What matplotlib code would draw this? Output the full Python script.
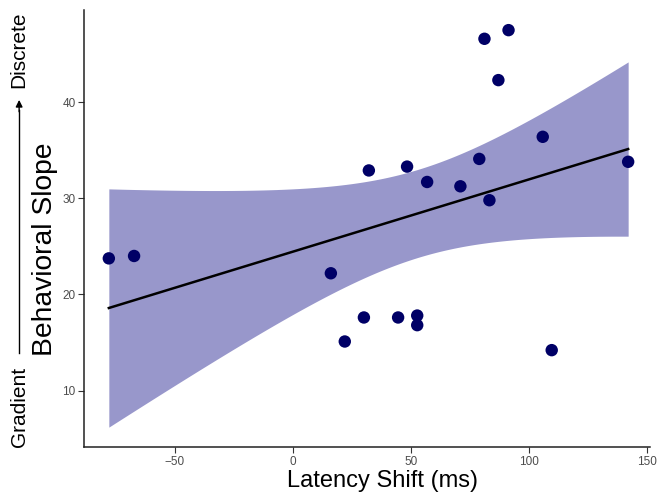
import numpy as np
import matplotlib.pyplot as plt

plt.rcParams['font.family'] = ['Liberation Sans', 'DejaVu Sans']

# data
latency_shift = [-77.9, -67.2, 16.2, 22.1, 30.2, 32.3, 44.7, 48.5, 52.8, 52.8,
                 57.0, 71.1, 79.1, 81.3, 83.4, 87.2, 91.5, 106.0, 109.8, 142.2]
behavioral_slope = [23.75, 24.0, 22.2, 15.1, 17.6, 32.9, 17.6, 33.3, 17.8, 16.8,
                    31.7, 31.25, 34.1, 46.6, 29.8, 42.3, 47.5, 36.4, 14.2, 33.8]

x = np.array(latency_shift)
y = np.array(behavioral_slope)

# linear fit with 95% confidence band (like geom_smooth(method="lm"))
n = len(x)
b1, b0 = np.polyfit(x, y, 1)
xs = np.linspace(x.min(), x.max(), 200)
ys = b0 + b1 * xs
resid = y - (b0 + b1 * x)
s = np.sqrt(np.sum(resid**2) / (n - 2))
se = s * np.sqrt(1 / n + (xs - x.mean())**2 / np.sum((x - x.mean())**2))
tcrit = 2.100922  # t(0.975, df=18)

fig = plt.figure(figsize=(6.6, 4.98), dpi=100)
ax = fig.add_axes([0.127, 0.102, 0.858, 0.878])

ax.fill_between(xs, ys - tcrit * se, ys + tcrit * se, color='#9897cb', lw=0, zorder=1)
ax.plot(xs, ys, color='black', lw=1.8, zorder=2)
ax.scatter(x, y, s=80, color='#000066', zorder=3, edgecolors='none')

ax.set_xlim(-88.5, 151.5)
ax.set_ylim(4.1, 49.6)
ax.set_xticks([-50, 0, 50, 100, 150])
ax.set_yticks([10, 20, 30, 40])
ax.set_xticklabels(['\u221250', '0', '50', '100', '150'])
ax.tick_params(labelcolor='#4d4d4d', labelsize=8.5, length=4, pad=2,
               color='#333333')
for side in ['top', 'right']:
    ax.spines[side].set_visible(False)
for side in ['left', 'bottom']:
    ax.spines[side].set_linewidth(1.1)
    ax.spines[side].set_color('#222222')

ax.set_xlabel('Latency Shift (ms)', fontsize=17)
ax.xaxis.set_label_coords(0.528, -0.052)

fig.text(0.068, 0.5, 'Behavioral Slope', rotation=90, fontsize=20.3,
         ha='center', va='center')
fig.text(0.029, 0.183, 'Gradient', rotation=90, fontsize=15,
         ha='center', va='center')
fig.text(0.029, 0.90, 'Discrete', rotation=90, fontsize=15,
         ha='center', va='center')
fig.add_artist(plt.Line2D([0.029, 0.029], [0.291, 0.78], color='black', lw=1))
ax.annotate('', xy=(0.029, 0.805), xycoords='figure fraction',
            xytext=(0.029, 0.77), textcoords='figure fraction',
            arrowprops=dict(arrowstyle='-|>', color='black', lw=1,
                            mutation_scale=10))

fig.savefig('out.png', dpi=100)
